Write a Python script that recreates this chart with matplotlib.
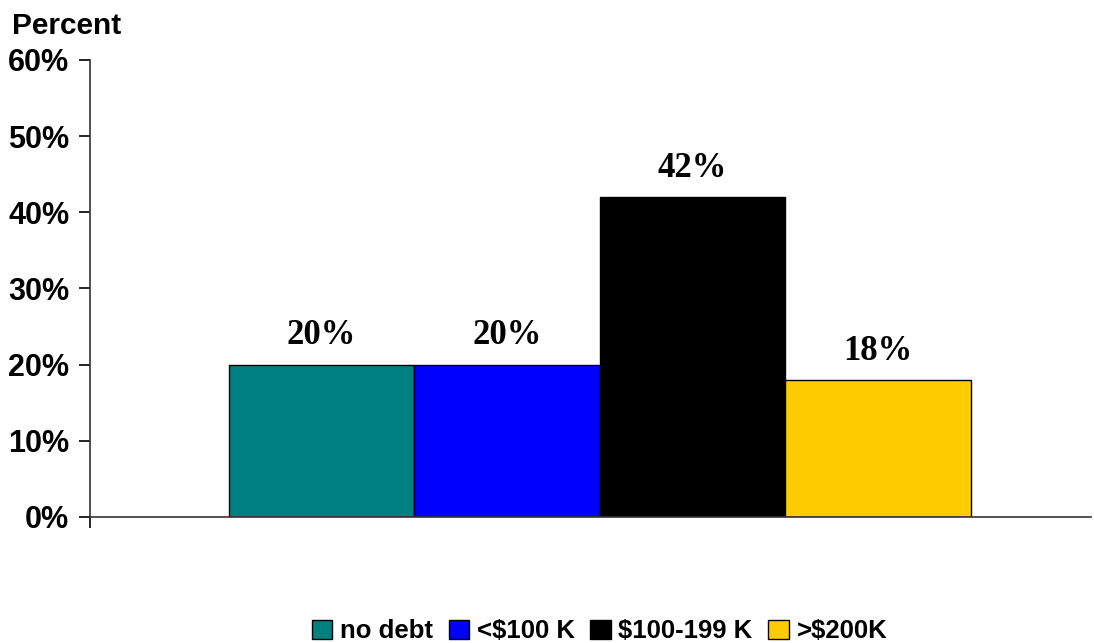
import matplotlib.pyplot as plt
from matplotlib.patches import Patch
from matplotlib.ticker import PercentFormatter

categories = ["no debt", "<$100 K", "$100-199 K", ">$200K"]
values = [20, 20, 42, 18]
colors = ["#008080", "#0000FF", "#000000", "#FFCC00"]
yticks = [0, 10, 20, 30, 40, 50, 60]

sans = "Liberation Sans"
serif = "Liberation Serif"

fig = plt.figure(figsize=(10.94, 6.43), dpi=100)
ax = fig.add_axes([0.0823, 0.196, 0.9147, 0.7107])

x = list(range(len(values)))
ax.bar(x, values, width=1.0, color=colors, edgecolor="black", linewidth=1)

# value labels above the bars
for xi, v in zip(x, values):
    ax.text(xi, v + 1.6, f"{v}%", ha="center", va="bottom",
            fontsize=25, fontweight="bold", family=serif)

ax.set_xlim(-1.249, 4.147)
ax.set_ylim(0, 60)
ax.set_yticks(yticks)
ax.yaxis.set_major_formatter(PercentFormatter(decimals=0))
ax.tick_params(axis="y", direction="out", length=8, width=1.2, pad=7)
for lbl in ax.get_yticklabels():
    lbl.set_fontsize(22)
    lbl.set_fontweight("bold")
    lbl.set_family(sans)

# small downward tick where the axes meet
ax.set_xticks([-1.249])
ax.set_xticklabels([""])
ax.tick_params(axis="x", direction="out", length=8, width=1.2)

for side in ["top", "right"]:
    ax.spines[side].set_visible(False)
for side in ["left", "bottom"]:
    ax.spines[side].set_linewidth(1.2)
    ax.spines[side].set_color("#333333")

fig.text(0.011, 0.938, "Percent", fontsize=21.5, fontweight="bold", family=sans,
         ha="left", va="bottom")

handles = [Patch(facecolor=c, edgecolor="black", linewidth=1) for c in colors]
fig.legend(handles, categories, loc="center", bbox_to_anchor=(0.548, 0.018),
           ncol=4, frameon=False, handlelength=0.8, handleheight=0.8,
           handletextpad=0.3, columnspacing=0.6,
           prop={"family": sans, "weight": "bold", "size": 18.5})

fig.savefig("out.png", dpi=100)
